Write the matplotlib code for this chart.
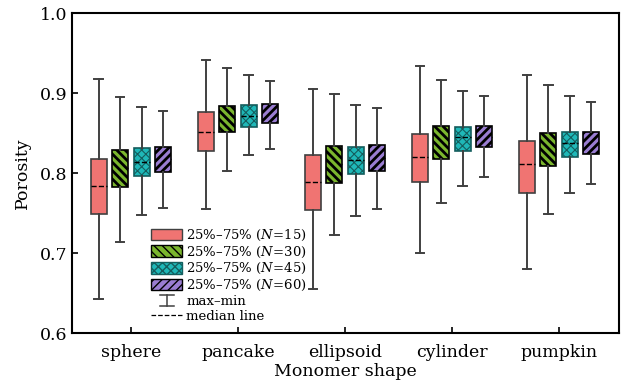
import matplotlib
matplotlib.use('Agg')
import matplotlib.pyplot as plt
from matplotlib.patches import Patch
from matplotlib.lines import Line2D

plt.rcParams['font.family'] = ['DejaVu Serif']
plt.rcParams['mathtext.fontset'] = 'dejavuserif'

# Данные
shapes = ['sphere', 'pancake', 'ellipsoid', 'cylinder', 'pumpkin']
n_labels = ['15', '30', '45', '60']

whis_hi = [[0.918, 0.941, 0.905, 0.934, 0.923],
           [0.895, 0.931, 0.899, 0.916, 0.910],
           [0.883, 0.923, 0.885, 0.903, 0.896],
           [0.878, 0.915, 0.881, 0.896, 0.889]]
q3 = [[0.818, 0.876, 0.823, 0.849, 0.840],
      [0.829, 0.884, 0.834, 0.859, 0.850],
      [0.831, 0.885, 0.833, 0.858, 0.851],
      [0.833, 0.886, 0.835, 0.859, 0.851]]
med = [[0.784, 0.851, 0.789, 0.820, 0.811],
       [0.806, 0.868, 0.811, 0.838, 0.830],
       [0.814, 0.871, 0.816, 0.845, 0.838],
       [0.817, 0.874, 0.819, 0.845, 0.837]]
q1 = [[0.749, 0.828, 0.754, 0.789, 0.775],
      [0.783, 0.851, 0.788, 0.818, 0.809],
      [0.796, 0.858, 0.799, 0.828, 0.820],
      [0.801, 0.863, 0.803, 0.832, 0.824]]
whis_lo = [[0.643, 0.755, 0.655, 0.700, 0.680],
           [0.714, 0.803, 0.723, 0.763, 0.749],
           [0.748, 0.823, 0.746, 0.784, 0.775],
           [0.756, 0.830, 0.755, 0.795, 0.786]]

colors = ['#F07472', '#7BB62E', '#1FB8B8', '#9A7DD2']
hatches = ['', '\\' * 4, 'x' * 4, '/' * 4]
hatch_colors = ['#404040', 'black', '#145E5E', 'black']
hatch_lw = [1.0, 2.0, 0.8, 2.0]
dark_hatch = [False, True, False, True]
offsets = [-0.3, -0.1, 0.1, 0.3]

fig = plt.figure(figsize=(6.22, 3.84), dpi=100)
ax = fig.add_axes([72/622, 1-333/384, 547/622, 320/384])

for k in range(4):
    stats = []
    for i in range(len(shapes)):
        stats.append({'med': med[k][i], 'q1': q1[k][i], 'q3': q3[k][i],
                      'whislo': whis_lo[k][i], 'whishi': whis_hi[k][i],
                      'fliers': []})
    pos = [i + 1 + offsets[k] for i in range(len(shapes))]
    with plt.rc_context({'hatch.linewidth': hatch_lw[k]}):
        bp = ax.bxp(stats, positions=pos, widths=0.15, capwidths=0.08,
                    patch_artist=True, showfliers=False, manage_ticks=False,
                    boxprops=dict(facecolor=colors[k], edgecolor=hatch_colors[k],
                                  hatch=hatches[k], linewidth=1.2),
                    whiskerprops=dict(color='#404040', linewidth=1.4),
                    capprops=dict(color='#404040', linewidth=1.4),
                    medianprops=dict(color='black', linestyle='--', linewidth=1.0))
    for b in bp['boxes']:
        b.set_zorder(2)
    if dark_hatch[k]:
        # в тёмной штриховке медиана не видна
        for m in bp['medians']:
            m.set_zorder(1.5)

ax.set_xlim(0.45, 5.56)
ax.set_ylim(0.6, 1.0)
ax.set_xticks(range(1, 6))
ax.set_xticklabels(shapes)
ax.set_yticks([0.6, 0.7, 0.8, 0.9, 1.0])
ax.tick_params(direction='in', labelsize=12.5, length=4, width=1.2)
ax.tick_params(axis='x', pad=8)
for s in ax.spines.values():
    s.set_linewidth(1.5)
ax.set_xlabel('Monomer shape', fontsize=12.5, labelpad=1)
ax.set_ylabel('Porosity', fontsize=12.5, labelpad=6)


class CapHandler:
    def legend_artist(self, legend, orig_handle, fontsize, handlebox):
        x0, y0 = handlebox.xdescent, handlebox.ydescent
        w, h = handlebox.width, handlebox.height
        cx = -x0 + w / 2
        lo, hi = -y0, -y0 + h
        art = [Line2D([cx, cx], [lo, hi], color='#404040', lw=1.1),
               Line2D([cx - 5, cx + 5], [lo, lo], color='#404040', lw=1.1),
               Line2D([cx - 5, cx + 5], [hi, hi], color='#404040', lw=1.1)]
        for a in art:
            handlebox.add_artist(a)
        return art[0]


handles = []
labels = []
for k in range(4):
    with plt.rc_context({'hatch.linewidth': hatch_lw[k]}):
        handles.append(Patch(facecolor=colors[k], edgecolor=hatch_colors[k],
                             hatch=hatches[k], linewidth=1.0))
    labels.append('25%–75% ($\\mathit{N}$=' + n_labels[k] + ')')
cap_handle = object()
handles.append(cap_handle)
labels.append('max–min')
handles.append(Line2D([], [], color='black', linestyle='--', linewidth=0.9))
labels.append('median line')

leg = ax.legend(handles, labels, loc='upper left', bbox_to_anchor=(0.135, 0.345),
                frameon=False, fontsize=9.5, handlelength=2.35, handleheight=1.0,
                labelspacing=0.12, handletextpad=0.3, borderaxespad=0,
                handler_map={cap_handle: CapHandler()})

fig.savefig('out.png', dpi=100)
